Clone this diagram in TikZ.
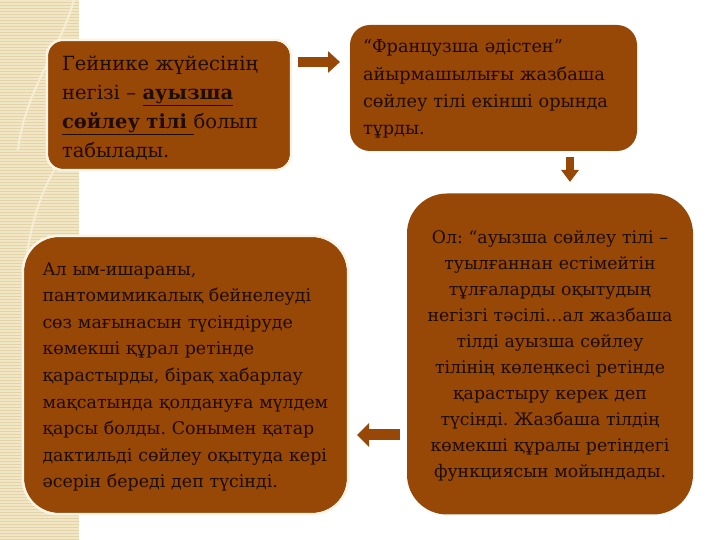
\documentclass[tikz,border=0pt]{standalone}
\usepackage{fontspec}
\setmainfont{DejaVu Serif}
\usetikzlibrary{arrows.meta}
\definecolor{boxbrown}{HTML}{974706}
\definecolor{stripbeige}{HTML}{F1E6C6}
\definecolor{stripline}{HTML}{E3D3A6}
\definecolor{ribbon}{HTML}{F6EDD5}
\definecolor{glow}{HTML}{FBF4E4}
\definecolor{inkdark}{HTML}{1E0C02}

\tikzset{
  panel/.style={rectangle, fill=boxbrown, inner sep=0pt},
  paneltext/.style={text=inkdark, inner sep=0pt},
  blockarrow/.style={boxbrown, line width=#1, -{Triangle[length=12pt, width=2*#1+1pt]}},
}

\begin{document}
\frenchspacing
\begin{tikzpicture}[x=1pt, y=1pt]
    \useasboundingbox (0,0) rectangle (720,540);

    % Draw the beige strip on the left
    \fill[stripbeige] (0,0) rectangle (79,540);
    \foreach \y in {1,4,...,540}
        \draw[stripline, line width=0.7pt] (0,\y) -- (79,\y);
    \draw[ribbon, line width=2pt] (74,540) .. controls (60,490) and (25,450) .. (18,390);
    \draw[ribbon, line width=2pt] (79,400) .. controls (40,370) and (15,280) .. (28,210)
        .. controls (35,160) and (60,120) .. (79,110);

    % Draw the four boxes
    \node[panel, rounded corners=15pt, minimum width=242, minimum height=128] (gb) at (169,435) {};
    \node[panel, rounded corners=20pt, minimum width=287, minimum height=126] (fr) at (493.5,452) {};
    \node[panel, rounded corners=35pt, minimum width=323, minimum height=276] (sv) at (185.5,165) {};
    \node[panel, rounded corners=40pt, minimum width=286, minimum height=321] (ol) at (550,186) {};

    % Light rim round the boxes
    \draw[glow, line width=2.5pt, rounded corners=16pt] ([shift={(-1,1)}]gb.north west) rectangle ([shift={(1,-1)}]gb.south east);
    \draw[glow, line width=2.5pt, rounded corners=36pt] ([shift={(-1,1)}]sv.north west) rectangle ([shift={(1,-1)}]sv.south east);

    % Texts of the boxes
    \node[paneltext, text width=214, align=left, font=\fontsize{19.5}{29}\selectfont] (gbt) at ([yshift=-3pt]gb.center)
        {Гейнике жүйесінің\\ негізі – \textbf{\underline{ауызша}}\\ \textbf{\underline{сөйлеу тілі }}болып\\ табылады.};
    \node[paneltext, text width=261, align=left, font=\fontsize{17.7}{27.3}\selectfont] (frt) at ([yshift=-1pt]fr.center)
        {“Французша әдістен”\\ айырмашылығы жазбаша\\ сөйлеу тілі екінші орында\\ тұрды.};
    \node[paneltext, text width=286, align=left, font=\fontsize{17.4}{26.6}\selectfont] (svt) at ([yshift=-2pt]sv.center)
        {Ал ым-ишараны,\\ пантомимикалық бейнелеуді\\ сөз мағынасын түсіндіруде\\ көмекші құрал ретінде\\
         қарастырды, бірақ хабарлау\\ мақсатында қолдануға мүлдем\\ қарсы болды. Сонымен қатар\\
         дактильді сөйлеу оқытуда кері\\ әсерін береді деп түсінді.};
    \node[paneltext, text width=270, align=center, font=\fontsize{17.3}{26}\selectfont] (olt) at ([yshift=-2pt]ol.center)
        {Ол: “ауызша сөйлеу тілі –\\ туылғаннан естімейтін\\ тұлғаларды оқытудың\\ негізгі тәсілі…ал жазбаша\\
         тілді ауызша сөйлеу\\ тілінің көлеңкесі ретінде\\ қарастыру керек деп\\ түсінді. Жазбаша тілдің\\
         көмекші құралы ретіндегі\\ функциясын мойындады.};

    % Draw the block arrows between them
    \coordinate (a1s) at (298,478); \coordinate (a1e) at (340,478);
    \coordinate (a2s) at (570,383); \coordinate (a2e) at (570,358);
    \coordinate (a3s) at (400,105); \coordinate (a3e) at (357,105);
    \draw[blockarrow=10pt] (a1s) -- (a1e);
    \draw[blockarrow=8pt] (a2s) -- (a2e);
    \draw[blockarrow=11pt] (a3s) -- (a3e);
\end{tikzpicture}
\end{document}
